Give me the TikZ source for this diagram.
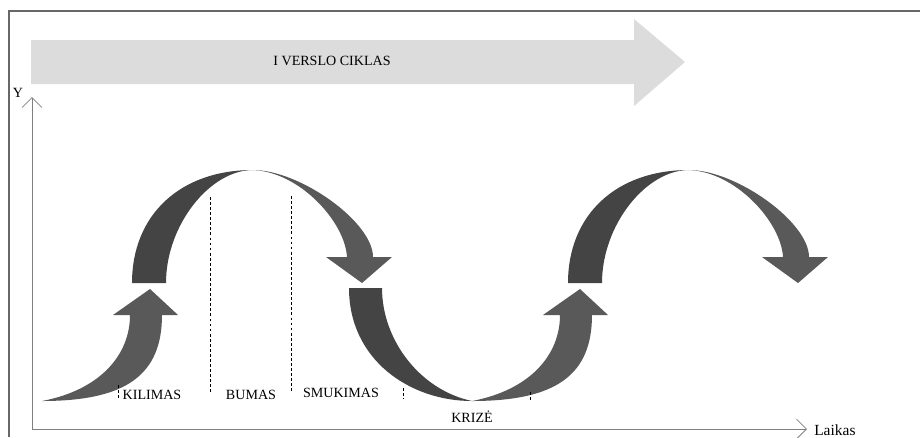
\documentclass[tikz,border=0pt]{standalone}
\usepackage{fontspec}
\setmainfont{Liberation Serif}
\usetikzlibrary{arrows.meta}
\definecolor{bandgray}{HTML}{DCDCDC}
\definecolor{arcdark}{HTML}{444444}
\definecolor{arclight}{HTML}{595959}
\definecolor{axisgray}{HTML}{808080}

\begin{document}
\begin{tikzpicture}[x=0.025cm,y=-0.025cm,
    axis/.style={draw=axisgray,line width=0.6pt,-{Straight Barb[length=7pt,width=14pt]}},
    phase/.style={draw,line width=0.5pt,dash pattern=on 2pt off 1.6pt},
    lbl/.style={font=\fontsize{10}{12}\selectfont,inner sep=0pt}]
	\useasboundingbox (0,0) rectangle (920,437);
	\draw[axisgray!80!black,line width=1pt] (9,437) -- (9,11) -- (920,11);

	% big band arrow
	\fill[bandgray] (31,40) -- (634,40) -- (634,19) -- (685,62) -- (634,106) -- (634,84) -- (31,84) -- cycle;
	\node[lbl] (title) at (332,61) {I VERSLO CIKLAS};

	% axes
	\coordinate (origin) at (32,429);
	\coordinate (ytop) at (32,97);
	\coordinate (xend) at (807,429);
	\draw[axis] (origin) -- (ytop);
	\draw[axis] (origin) -- (xend);
	\node[lbl] (ylab) at (18,93) {Y};
	\node[lbl,font=\fontsize{11}{13}\selectfont,anchor=west] (xlab) at (814,430) {Laikas};

	% rising arrows
	\foreach \dx in {0,430} {
	  \fill[arclight,shift={(\dx,0)}] (42,401) .. controls (126,401) and (162,375) .. (162,315)
	        -- (178,315) -- (150,289) -- (113,315) -- (130,315)
	        .. controls (130,355) and (100,390) .. (42,401) -- cycle;
	}

	% arcs over the top
	\foreach \dx in {0,436} {
	  \fill[arcdark,shift={(\dx,0)}] (132,283) .. controls (132,215) and (180,170) .. (253,170)
	        .. controls (210,170) and (166,225) .. (166,283) -- cycle;
	  \fill[arclight,shift={(\dx,0)}] (253,170) .. controls (300,170) and (373,222) .. (373,257)
	        -- (392,257) -- (362,283) -- (326,257) -- (347,257)
	        .. controls (345,222) and (300,172) .. (253,170) -- cycle;
	}

	% the trough
	\fill[arcdark] (349,288) .. controls (349,360) and (410,401) .. (472,401)
	      .. controls (420,390) and (382,340) .. (382,288) -- cycle;

	% phase borders
	\draw[phase] (118,385) -- (118,400);
	\draw[phase] (210,197) -- (210,393);
	\draw[phase] (291,196) -- (291,393);
	\draw[phase] (403,388) -- (403,399);
	\draw[phase] (530,392) -- (530,402);

	\node[lbl] (kilimas) at (152,395) {KILIMAS};
	\node[lbl] (bumas) at (251,395) {BUMAS};
	\node[lbl] (smukimas) at (341,393) {SMUKIMAS};
	\node[lbl] (krize) at (472,417) {KRIZĖ};
\end{tikzpicture}
\end{document}
